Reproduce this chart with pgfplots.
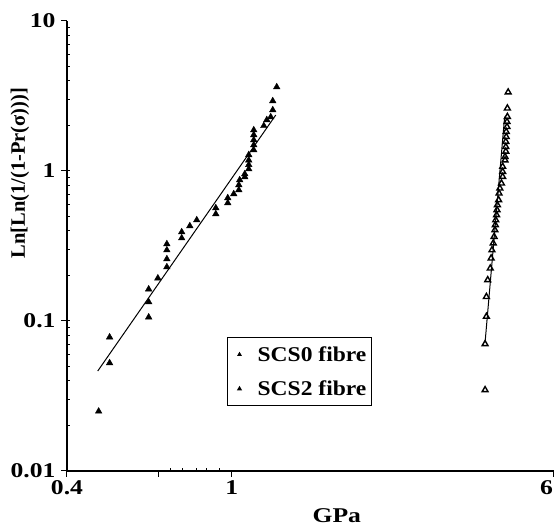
\documentclass[border=0pt]{standalone}
\usepackage{fontspec}
\setmainfont{Liberation Serif}
\newfontfamily\wideA{Liberation Serif}[FakeStretch=1.22]
\newfontfamily\wideB{Liberation Serif}[FakeStretch=1.12]
\usepackage{pgfplots}
\pgfplotsset{compat=1.18}
\pgfplotsset{mylegimg/.style={legend image code/.code={\path (0cm,0cm) (0.85cm,0cm); \draw[##1] plot coordinates {(0.3cm,0cm)};}}}
\begin{document}
\begin{tikzpicture}
\path[use as bounding box] (-67pt,-55pt) rectangle (491pt,471pt);
\begin{axis}[
  at={(0pt,0pt)}, anchor=south west,
  scale only axis, width=487pt, height=450pt,
  xmode=log, ymode=log,
  xmin=0.4, xmax=6, ymin=0.01, ymax=10,
  axis x line*=bottom, axis y line*=left,
  axis line style={-, line width=1.4pt},
  xtick={0.4,1,6}, xticklabels={0.4,1,\makebox[0pt][r]{6\hspace{1pt}}},
  ytick={0.01,0.1,1,10}, yticklabels={0.01,0.1,1,10},
  minor xtick={0.71,0.76,0.82,0.87,0.935},
  extra x ticks={0.667}, extra x tick labels={},
  tick align=outside,
  major tick length=6pt, minor tick length=3pt,
  tick style={black, line width=1pt},
  minor x tick style={yshift=3pt},
  minor y tick style={xshift=3pt},
  tick label style={font=\wideA\bfseries\fontsize{21}{24}\selectfont},
  yticklabel style={xshift=-2pt},
  xlabel={GPa},
  xlabel style={at={(axis description cs:0.554,-0.1)}, anchor=center, font=\wideA\bfseries\fontsize{21}{24}\selectfont},
  ylabel={Ln[Ln(1/(1-Pr(σ)))]},
  ylabel style={at={(axis description cs:-0.0965,0.662)}, anchor=center, font=\bfseries\fontsize{20.5}{24}\selectfont},
  legend style={at={(axis description cs:0.3285,0.298)}, anchor=north west, draw=black, line width=1pt,
    font=\wideB\bfseries\fontsize{21}{24}\selectfont, inner xsep=3pt, inner ysep=7pt, row sep=14pt},
  legend cell align=left,
  mylegimg,
]
\addplot[only marks, mark=triangle*, mark size=3.8pt, black, mark options={fill=black},
  legend image post style={mark size=1.8pt}] coordinates {
(1.284,3.63) (1.256,2.93) (1.256,2.55) (1.242,2.29) (1.215,2.19) (1.195,2.0)
(1.130,1.875) (1.130,1.74) (1.130,1.61) (1.130,1.49) (1.130,1.38)
(1.099,1.28) (1.099,1.18) (1.099,1.10) (1.099,1.03)
(1.075,0.955) (1.075,0.912) (1.045,0.871) (1.040,0.807) (1.040,0.747)
(1.011,0.703) (0.978,0.661) (0.978,0.612) (0.915,0.567) (0.915,0.517)
(0.823,0.471) (0.792,0.430) (0.757,0.392) (0.757,0.357)
(0.697,0.326) (0.697,0.297) (0.697,0.259) (0.697,0.229)
(0.663,0.193) (0.630,0.163) (0.630,0.134) (0.630,0.106)
(0.507,0.078) (0.507,0.0525) (0.477,0.025)
};
\addlegendentry{SCS0 fibre}
\addplot[only marks, mark=triangle, mark size=3.4pt, black, mark options={line width=1.4pt, fill=white},
  legend image post style={mark size=1.6pt}] coordinates {
(4.65,3.35) (4.63,2.62) (4.63,2.30) (4.62,2.13) (4.62,1.97) (4.60,1.83)
(4.60,1.69) (4.59,1.57) (4.59,1.45) (4.59,1.35) (4.57,1.245) (4.57,1.18)
(4.51,1.07) (4.51,0.989) (4.51,0.916) (4.48,0.828) (4.44,0.767) (4.42,0.710)
(4.41,0.641) (4.38,0.593) (4.37,0.550) (4.36,0.509) (4.34,0.471) (4.33,0.437)
(4.32,0.404) (4.30,0.365) (4.28,0.330) (4.25,0.297) (4.23,0.262) (4.21,0.2245)
(4.15,0.1877) (4.12,0.145) (4.12,0.107) (4.09,0.0703) (4.09,0.0347)
};
\addlegendentry{SCS2 fibre}
\addplot[black, line width=1pt, forget plot] coordinates {(0.4746,0.0464) (1.277,2.36)};
\addplot[black, line width=1pt, forget plot] coordinates {(4.09,0.072) (4.56,2.3)};
\end{axis}
\end{tikzpicture}
\end{document}
